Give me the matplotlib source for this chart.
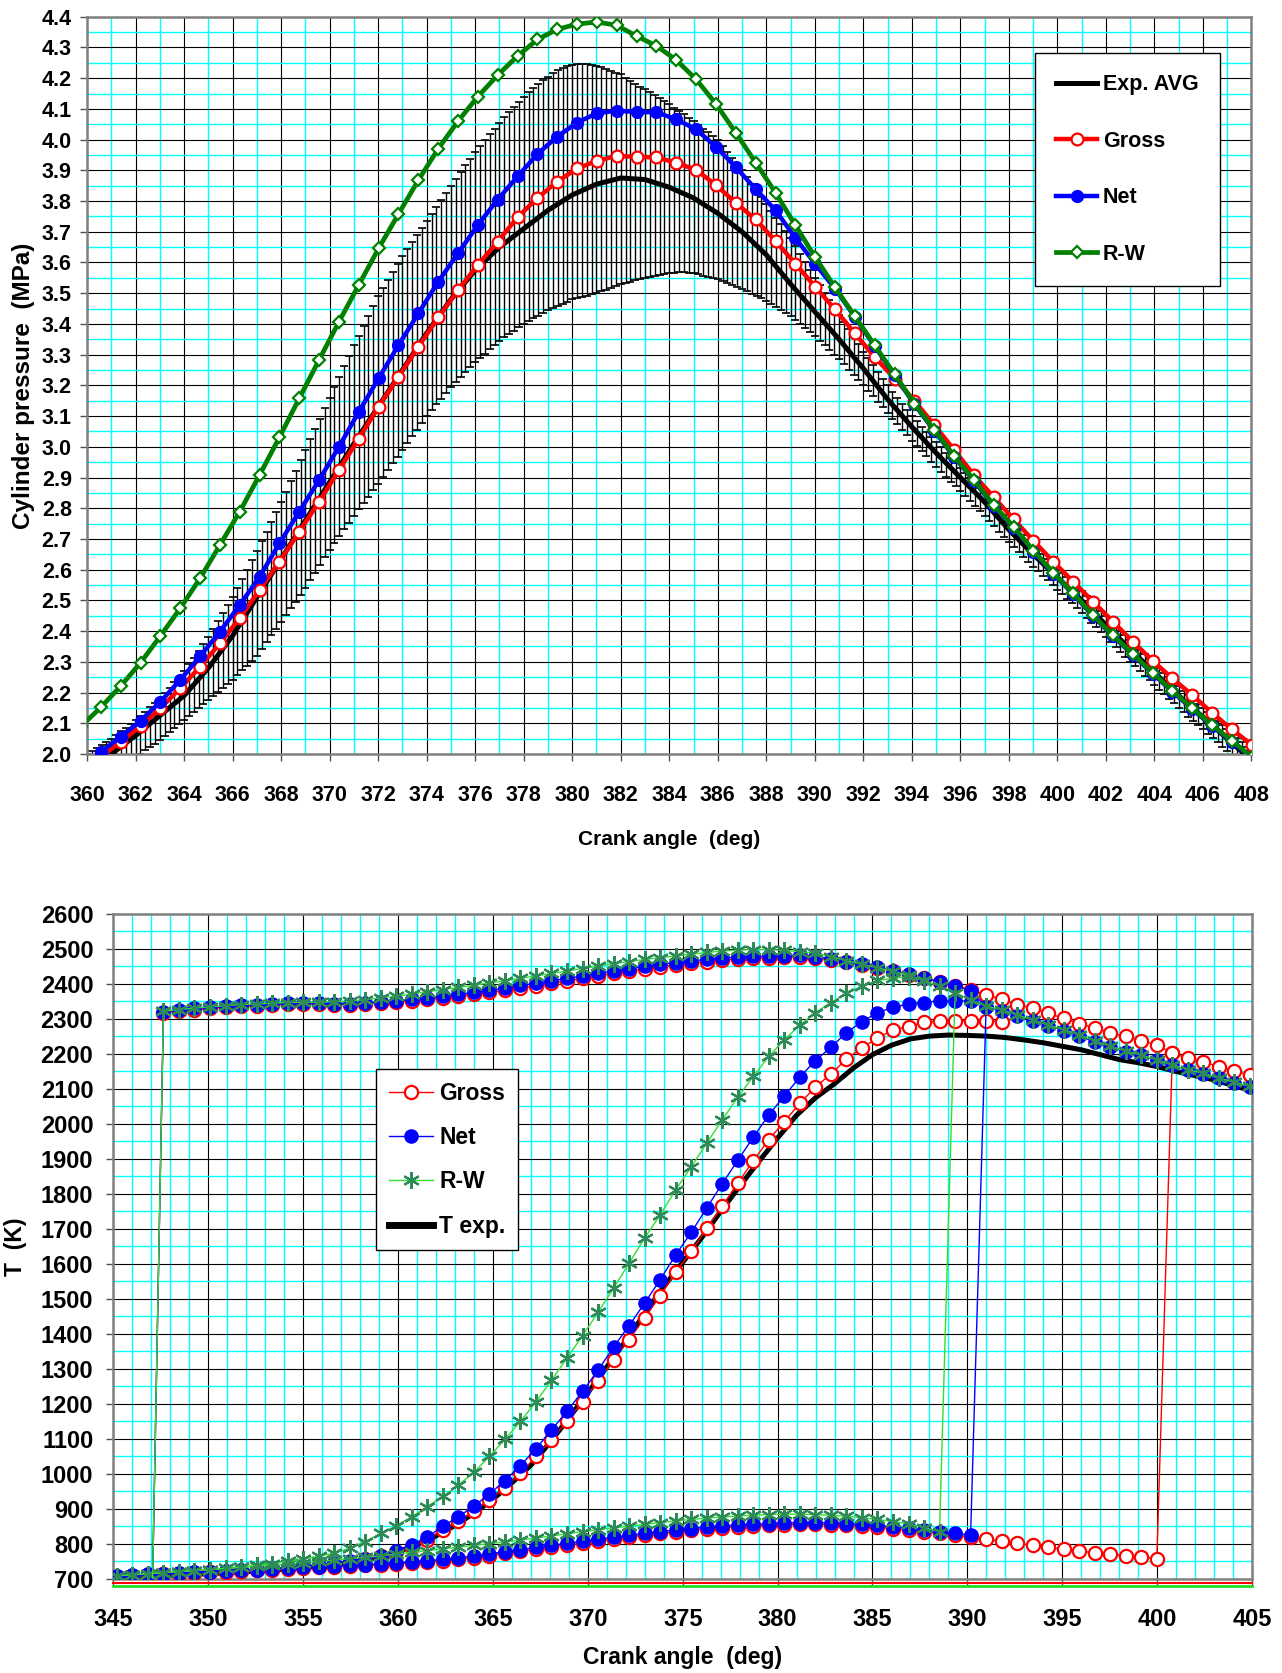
"""
Cylinder pressure and gas temperature: experiment vs. Gross / Net / R-W heat-release models.
Two stacked Excel-style panels (black major grid, cyan minor grid). Writes out.png.
"""
import numpy as np
import matplotlib
matplotlib.use("Agg")
import matplotlib.pyplot as plt
from matplotlib.ticker import MultipleLocator, FormatStrFormatter

plt.rcParams["font.family"] = ["Liberation Sans", "DejaVu Sans"]
plt.rcParams["font.weight"] = "bold"
plt.rcParams["axes.labelweight"] = "bold"

# ---------------- top panel: cylinder pressure (MPa) ----------------
P_START, P_STEP = 359.75, 0.818          # model output grid (deg)
p_gross = [1.945, 1.991, 2.040, 2.091, 2.149, 2.214, 2.284, 2.360, 2.443, 2.534,
           2.626, 2.724, 2.821, 2.924, 3.027, 3.131, 3.228, 3.326, 3.421, 3.510,
           3.592, 3.668, 3.747, 3.810, 3.863, 3.906, 3.931, 3.947, 3.944, 3.942,
           3.925, 3.901, 3.852, 3.794, 3.740, 3.670, 3.596, 3.521, 3.447, 3.369,
           3.292, 3.222, 3.150, 3.071, 2.990, 2.908, 2.836, 2.764, 2.694, 2.626,
           2.561, 2.496, 2.431, 2.366, 2.304, 2.246, 2.192, 2.134, 2.080, 2.030]
p_net = [1.958, 2.007, 2.056, 2.108, 2.170, 2.241, 2.318, 2.398, 2.485, 2.577,
         2.686, 2.789, 2.892, 3.000, 3.114, 3.223, 3.331, 3.434, 3.537, 3.630,
         3.722, 3.805, 3.880, 3.953, 4.010, 4.055, 4.086, 4.094, 4.090, 4.089,
         4.066, 4.033, 3.977, 3.910, 3.839, 3.770, 3.680, 3.595, 3.515, 3.422,
         3.327, 3.233, 3.138, 3.052, 2.967, 2.889, 2.807, 2.737, 2.659, 2.587,
         2.520, 2.449, 2.384, 2.323, 2.262, 2.203, 2.146, 2.091, 2.040, 1.987]
p_rw = [2.090, 2.152, 2.221, 2.297, 2.384, 2.474, 2.572, 2.680, 2.789, 2.908,
        3.031, 3.158, 3.283, 3.407, 3.527, 3.646, 3.758, 3.868, 3.970, 4.060,
        4.140, 4.210, 4.272, 4.326, 4.359, 4.376, 4.383, 4.372, 4.337, 4.305,
        4.259, 4.196, 4.116, 4.022, 3.925, 3.827, 3.721, 3.617, 3.519, 3.425,
        3.330, 3.236, 3.141, 3.055, 2.970, 2.892, 2.810, 2.740, 2.662, 2.590,
        2.523, 2.452, 2.387, 2.326, 2.265, 2.206, 2.149, 2.094, 2.043, 1.990]

# experimental average, one value per degree from 360 to 408
p_exp_avg = [1.95, 2.00, 2.06, 2.125, 2.19, 2.28, 2.385, 2.51, 2.635, 2.76,
             2.885, 3.01, 3.13, 3.25, 3.37, 3.48, 3.575, 3.65, 3.71, 3.77,
             3.82, 3.855, 3.875, 3.87, 3.845, 3.81, 3.76, 3.70, 3.625, 3.53,
             3.44, 3.35, 3.255, 3.155, 3.065, 2.98, 2.90, 2.82, 2.73, 2.65,
             2.575, 2.50, 2.42, 2.34, 2.265, 2.19, 2.12, 2.05, 1.98]

# cycle-to-cycle scatter (error-bar ends), every 0.2 deg from 360 to 408
BAND_START, BAND_STEP = 360.0, 0.2
p_exp_hi = [
    2.000, 2.010, 2.020, 2.030, 2.040, 2.050, 2.062, 2.074, 2.086, 2.098,
    2.110, 2.124, 2.138, 2.152, 2.166, 2.180, 2.198, 2.216, 2.234, 2.252,
    2.270, 2.292, 2.314, 2.336, 2.358, 2.380, 2.406, 2.432, 2.458, 2.484,
    2.510, 2.540, 2.570, 2.600, 2.630, 2.660, 2.692, 2.724, 2.756, 2.788,
    2.820, 2.854, 2.888, 2.922, 2.956, 2.990, 3.024, 3.058, 3.092, 3.126,
    3.160, 3.194, 3.228, 3.262, 3.296, 3.330, 3.362, 3.394, 3.426, 3.458,
    3.490, 3.516, 3.542, 3.568, 3.594, 3.620, 3.643, 3.666, 3.689, 3.712,
    3.735, 3.758, 3.781, 3.804, 3.827, 3.850, 3.872, 3.894, 3.916, 3.938,
    3.960, 3.979, 3.998, 4.017, 4.036, 4.055, 4.072, 4.089, 4.106, 4.123,
    4.140, 4.154, 4.168, 4.182, 4.194, 4.205, 4.216, 4.226, 4.234, 4.240,
    4.243, 4.245, 4.246, 4.246, 4.244, 4.240, 4.236, 4.230, 4.224, 4.218,
    4.212, 4.202, 4.192, 4.182, 4.172, 4.165, 4.155, 4.145, 4.135, 4.125,
    4.115, 4.104, 4.093, 4.082, 4.071, 4.060, 4.048, 4.036, 4.024, 4.012,
    4.000, 3.980, 3.960, 3.940, 3.920, 3.900, 3.878, 3.856, 3.834, 3.812,
    3.790, 3.768, 3.746, 3.724, 3.702, 3.680, 3.654, 3.628, 3.602, 3.576,
    3.550, 3.526, 3.502, 3.478, 3.454, 3.430, 3.406, 3.382, 3.358, 3.334,
    3.310, 3.288, 3.266, 3.244, 3.222, 3.200, 3.180, 3.160, 3.140, 3.120,
    3.100, 3.083, 3.066, 3.049, 3.032, 3.015, 2.998, 2.981, 2.964, 2.947,
    2.930, 2.914, 2.898, 2.882, 2.866, 2.850, 2.832, 2.814, 2.796, 2.778,
    2.760, 2.744, 2.728, 2.712, 2.696, 2.680, 2.665, 2.650, 2.635, 2.620,
    2.605, 2.590, 2.575, 2.560, 2.545, 2.530, 2.514, 2.498, 2.482, 2.466,
    2.450, 2.434, 2.418, 2.402, 2.386, 2.370, 2.355, 2.340, 2.325, 2.310,
    2.295, 2.280, 2.265, 2.250, 2.235, 2.220, 2.206, 2.192, 2.178, 2.164,
    2.150, 2.136, 2.122, 2.108, 2.094, 2.080, 2.066, 2.052, 2.038, 2.024,
    2.010]
p_exp_lo = [
    1.910, 1.918, 1.926, 1.934, 1.942, 1.950, 1.958, 1.966, 1.974, 1.982,
    1.990, 2.001, 2.012, 2.023, 2.034, 2.045, 2.058, 2.071, 2.084, 2.097,
    2.110, 2.123, 2.136, 2.149, 2.162, 2.175, 2.188, 2.201, 2.214, 2.227,
    2.240, 2.256, 2.272, 2.288, 2.304, 2.320, 2.342, 2.364, 2.386, 2.408,
    2.430, 2.452, 2.474, 2.496, 2.518, 2.540, 2.565, 2.590, 2.615, 2.640,
    2.665, 2.687, 2.709, 2.731, 2.753, 2.775, 2.796, 2.817, 2.838, 2.859,
    2.880, 2.902, 2.924, 2.946, 2.968, 2.990, 3.012, 3.034, 3.056, 3.078,
    3.100, 3.119, 3.138, 3.157, 3.176, 3.195, 3.211, 3.227, 3.243, 3.259,
    3.275, 3.289, 3.303, 3.317, 3.331, 3.345, 3.356, 3.367, 3.378, 3.389,
    3.400, 3.409, 3.418, 3.427, 3.436, 3.445, 3.452, 3.459, 3.466, 3.473,
    3.480, 3.484, 3.488, 3.492, 3.496, 3.500, 3.506, 3.512, 3.518, 3.524,
    3.530, 3.534, 3.538, 3.542, 3.546, 3.550, 3.553, 3.556, 3.559, 3.562,
    3.565, 3.567, 3.568, 3.568, 3.567, 3.565, 3.561, 3.557, 3.553, 3.549,
    3.545, 3.539, 3.533, 3.527, 3.521, 3.515, 3.507, 3.499, 3.491, 3.483,
    3.475, 3.465, 3.455, 3.445, 3.435, 3.425, 3.412, 3.399, 3.386, 3.373,
    3.360, 3.345, 3.330, 3.315, 3.300, 3.285, 3.268, 3.251, 3.234, 3.217,
    3.200, 3.182, 3.164, 3.146, 3.128, 3.110, 3.092, 3.074, 3.056, 3.038,
    3.020, 3.003, 2.986, 2.969, 2.952, 2.935, 2.919, 2.903, 2.887, 2.871,
    2.855, 2.839, 2.823, 2.807, 2.791, 2.775, 2.758, 2.741, 2.724, 2.707,
    2.690, 2.674, 2.658, 2.642, 2.626, 2.610, 2.595, 2.580, 2.565, 2.550,
    2.535, 2.520, 2.505, 2.490, 2.475, 2.460, 2.444, 2.428, 2.412, 2.396,
    2.380, 2.364, 2.348, 2.332, 2.316, 2.300, 2.285, 2.270, 2.255, 2.240,
    2.225, 2.210, 2.195, 2.180, 2.165, 2.150, 2.136, 2.122, 2.108, 2.094,
    2.080, 2.066, 2.052, 2.038, 2.024, 2.010, 1.996, 1.982, 1.968, 1.954,
    1.940]

# ---------------- bottom panel: temperature (K) ----------------
T_START, T_STEP = 345.18, 0.818
# unburned zone (starts at index 0); last value = jump to burned zone after combustion end
t_gross_lower = [707, 709, 711, 713, 715, 717, 719, 721, 723, 725,
                 727, 729, 731, 733, 735, 737, 739, 741, 743, 746,
                 749, 752, 756, 761, 767, 773, 779, 785, 791, 797,
                 803, 809, 814, 820, 825, 830, 835, 839, 843, 846,
                 849, 851, 853, 855, 856, 856, 855, 853, 851, 848,
                 844, 840, 835, 830, 825, 820, 814, 808, 802, 796,
                 790, 785, 780, 775, 771, 767, 763, 758, 2202]
t_net_lower = [709, 711, 713, 715, 717, 719, 721, 723, 725, 727,
               729, 731, 733, 735, 737, 739, 741, 743, 746, 749,
               752, 756, 760, 766, 772, 778, 784, 790, 796, 802,
               808, 814, 819, 825, 830, 835, 840, 844, 848, 851,
               854, 856, 858, 860, 861, 861, 860, 858, 856, 853,
               849, 845, 840, 835, 830, 826, 2335]
t_rw_lower = [709, 712, 715, 718, 721, 724, 727, 730, 733, 736,
              739, 742, 746, 750, 754, 758, 762, 766, 771, 776,
              781, 786, 791, 796, 801, 806, 811, 817, 823, 829,
              835, 841, 846, 851, 856, 861, 866, 870, 874, 877,
              880, 882, 884, 885, 885, 884, 882, 879, 875, 870,
              864, 857, 847, 835, 2375]
# mass-averaged temperature (starts at index 0)
t_gross_mean = [707, 709, 711, 713, 715, 717, 719, 721, 723, 725,
                728, 731, 734, 738, 743, 749, 756, 765, 776, 791,
                812, 840, 866, 893, 925, 960, 1002, 1050, 1098, 1150,
                1207, 1265, 1326, 1384, 1445, 1509, 1576, 1636, 1702, 1766,
                1831, 1895, 1955, 2007, 2059, 2105, 2143, 2185, 2218, 2245,
                2269, 2278, 2290, 2293, 2295, 2295, 2295, 2292]
t_net_mean = [709, 711, 713, 715, 717, 719, 721, 723, 725, 727,
              730, 733, 736, 740, 745, 751, 758, 767, 780, 797,
              820, 850, 878, 908, 943, 981, 1024, 1072, 1126, 1179,
              1236, 1296, 1363, 1424, 1488, 1555, 1626, 1690, 1760, 1829,
              1896, 1962, 2026, 2080, 2134, 2181, 2219, 2261, 2292, 2318,
              2333, 2343, 2347, 2352, 2350, 2352]
t_rw_mean = [709, 712, 715, 718, 721, 724, 727, 731, 735, 739,
             744, 750, 757, 765, 774, 788, 807, 830, 852, 878,
             907, 936, 968, 1005, 1050, 1099, 1150, 1206, 1268, 1331,
             1395, 1462, 1531, 1602, 1674, 1740, 1812, 1877, 1945, 2012,
             2076, 2136, 2193, 2240, 2283, 2318, 2347, 2373, 2394, 2410,
             2416, 2421, 2410]
# burned zone (starts at index 2, zero before ignition)
UPPER_K0 = 2
t_gross_upper = [0,
                 2318, 2323, 2327, 2330, 2334, 2336, 2338, 2340, 2342, 2343,
                 2342, 2341, 2341, 2343, 2346, 2349, 2352, 2356, 2360, 2365,
                 2370, 2376, 2382, 2389, 2395, 2402, 2409, 2416, 2423, 2430,
                 2437, 2443, 2449, 2454, 2459, 2464, 2468, 2471, 2473, 2475,
                 2476, 2477, 2474, 2469, 2462, 2455, 2447, 2437, 2427, 2416,
                 2406, 2395, 2383, 2369, 2356, 2341, 2331, 2316, 2302, 2287,
                 2274, 2261, 2250, 2238, 2226, 2202, 2188, 2177, 2164, 2151,
                 2140, 2130]
t_net_upper = [0,
               2321, 2326, 2330, 2333, 2337, 2339, 2341, 2343, 2345, 2346,
               2345, 2344, 2344, 2346, 2349, 2352, 2356, 2360, 2365, 2370,
               2376, 2382, 2389, 2396, 2402, 2409, 2416, 2423, 2430, 2437,
               2444, 2450, 2456, 2461, 2466, 2470, 2474, 2477, 2479, 2480,
               2481, 2482, 2478, 2472, 2464, 2457, 2448, 2437, 2428, 2416,
               2407, 2395, 2381, 2335, 2324, 2309, 2295, 2281, 2267, 2252,
               2234, 2220, 2206, 2196, 2182, 2168, 2154, 2144, 2130, 2118,
               2107, 2097]
t_rw_upper = [0,
              2322, 2327, 2331, 2335, 2338, 2341, 2343, 2345, 2347, 2348,
              2348, 2349, 2351, 2355, 2360, 2365, 2371, 2378, 2384, 2390,
              2396, 2403, 2409, 2416, 2423, 2430, 2437, 2444, 2451, 2458,
              2464, 2470, 2475, 2480, 2485, 2490, 2494, 2497, 2498, 2498,
              2496, 2492, 2488, 2478, 2467, 2456, 2446, 2436, 2425, 2409,
              2394, 2375, 2355, 2337, 2326, 2312, 2297, 2283, 2269, 2255,
              2237, 2222, 2208, 2197, 2183, 2169, 2155, 2145, 2131, 2119,
              2108, 2098]
# measured temperature, one value per degree from 345 to 405
t_exp = [705, 707, 709, 711, 713, 715, 718, 721, 724, 728,
         732, 737, 743, 752, 763, 778, 798, 823, 853, 888,
         928, 975, 1025, 1090, 1160, 1232, 1306, 1381, 1458, 1535,
         1605, 1675, 1750, 1822, 1892, 1960, 2025, 2075, 2115, 2160,
         2198, 2225, 2243, 2251, 2254, 2253, 2251, 2247, 2240, 2232,
         2222, 2212, 2198, 2184, 2175, 2164, 2150, 2138, 2126, 2110,
         2095]
# zero-valued series that the spreadsheet drew along the bottom edge
t_base_angle = [345, 405]
t_base_gross = [689, 689]
t_base_rw = [681, 681]


def excel_grid(ax, xmaj, xmin, ymaj, ymin):
    ax.xaxis.set_major_locator(MultipleLocator(xmaj))
    ax.xaxis.set_minor_locator(MultipleLocator(xmin))
    ax.yaxis.set_major_locator(MultipleLocator(ymaj))
    ax.yaxis.set_minor_locator(MultipleLocator(ymin))
    ax.grid(which="minor", color="#00FFFF", lw=1.0)
    ax.grid(which="major", color="black", lw=0.8)
    ax.set_axisbelow(True)
    for s in ax.spines.values():
        s.set_color("#808080")
        s.set_linewidth(1.8)
    ax.tick_params(which="major", direction="out", length=5, width=1, color="#505050")
    ax.tick_params(which="minor", length=0)


def angles(start, step, values, k0=0):
    return start + step * (k0 + np.arange(len(values)))


fig = plt.figure(figsize=(12.82, 16.73), dpi=100)
ax1 = fig.add_axes([0.0679, 0.5493, 0.9083, 0.4407])
ax2 = fig.add_axes([0.0885, 0.0562, 0.8881, 0.3975])

# ---- top panel ----
excel_grid(ax1, 2, 1, 0.1, 0.05)
hi, lo = np.array(p_exp_hi), np.array(p_exp_lo)
ax1.errorbar(angles(BAND_START, BAND_STEP, hi), (hi + lo) / 2, yerr=(hi - lo) / 2,
             fmt="none", ecolor="black", elinewidth=1.0, capsize=2.6, capthick=1.2, zorder=2)
ax1.plot(np.arange(360, 360 + len(p_exp_avg)), p_exp_avg, color="black", lw=3.6,
         zorder=3, label="Exp. AVG")
ang = angles(P_START, P_STEP, p_gross)
ax1.plot(ang, p_gross, color="red", lw=3.2, marker="o", ms=8.5, mfc="white", mec="red",
         mew=1.6, zorder=4, label="Gross")
ax1.plot(ang, p_net, color="blue", lw=3.2, marker="o", ms=8.5, mfc="blue", mec="blue",
         zorder=5, label="Net")
ax1.plot(ang, p_rw, color="green", lw=3.4, marker="D", ms=6.5, mfc="white", mec="green",
         mew=1.6, zorder=6, label="R-W")
ax1.set_xlim(360, 408)
ax1.set_ylim(2.0, 4.4)
ax1.yaxis.set_major_formatter(FormatStrFormatter("%.1f"))
ax1.tick_params(axis="x", which="major", labelsize=15.5, pad=17.5)
ax1.tick_params(axis="y", which="major", labelsize=15.5, pad=6)
ax1.set_xlabel("Crank angle  (deg)", fontsize=15)
ax1.xaxis.set_label_coords(0.5, -0.103)
ax1.set_ylabel("Cylinder pressure  (MPa)", fontsize=17.5)
ax1.yaxis.set_label_coords(-0.045, 0.5)
leg1 = ax1.legend(loc="upper left", bbox_to_anchor=(0.814, 0.951), borderaxespad=0,
                  fontsize=15.5, fancybox=False, edgecolor="black", framealpha=1,
                  labelspacing=1.65, borderpad=1.0, handlelength=1.9, handletextpad=0.25)
leg1.get_frame().set_linewidth(1.0)

# ---- bottom panel ----
excel_grid(ax2, 5, 1, 100, 50)
ax2.plot(np.arange(345, 345 + len(t_exp)), t_exp, color="black", lw=3.6, zorder=3)
ax2.plot(t_base_angle, t_base_gross, color="red", lw=1.5, clip_on=False, zorder=3)
ax2.plot(t_base_angle, t_base_rw, color="#22dd22", lw=2.0, clip_on=False, zorder=3)

models = [
    ("Gross", t_gross_lower, t_gross_mean, t_gross_upper,
     dict(color="red", lw=1.0, marker="o", ms=9.5, mfc="white", mec="red", mew=1.6)),
    ("Net", t_net_lower, t_net_mean, t_net_upper,
     dict(color="blue", lw=1.0, marker="o", ms=9.5, mfc="blue", mec="blue")),
    ("R-W", t_rw_lower, t_rw_mean, t_rw_upper,
     dict(color="#33dd33", lw=1.0, marker=(6, 2, 0), ms=12, mfc="#2e8b57", mec="#2e8b57", mew=1.6)),
]
handles = []
for i, (name, lower, mean, upper, kw) in enumerate(models):
    z = 4 + i
    h, = ax2.plot(angles(T_START, T_STEP, lower), lower, zorder=z, label=name, **kw)
    ax2.plot(angles(T_START, T_STEP, mean), mean, zorder=z, **kw)
    ax2.plot(angles(T_START, T_STEP, upper, UPPER_K0), upper, zorder=z, **kw)
    handles.append(h)
handles.append(plt.Line2D([], [], color="black", lw=5))

ax2.set_xlim(345, 405)
ax2.set_ylim(700, 2600)
ax2.tick_params(axis="x", which="major", labelsize=17, pad=16)
ax2.tick_params(axis="y", which="major", labelsize=17, pad=9.5)
ax2.set_xlabel("Crank angle  (deg)", fontsize=16.5)
ax2.xaxis.set_label_coords(0.5, -0.101)
ax2.set_ylabel("T  (K)", fontsize=16.5)
ax2.yaxis.set_label_coords(-0.076, 0.5)
leg2 = ax2.legend(handles, ["Gross", "Net", "R-W", "T exp."], loc="upper left",
                  bbox_to_anchor=(0.231, 0.7665), borderaxespad=0, fontsize=16.5,
                  fancybox=False, edgecolor="black", framealpha=1, labelspacing=0.93,
                  borderpad=0.55, handlelength=1.9, handletextpad=0.3)
leg2.get_frame().set_linewidth(1.0)

fig.savefig("out.png", dpi=100, facecolor="white")
